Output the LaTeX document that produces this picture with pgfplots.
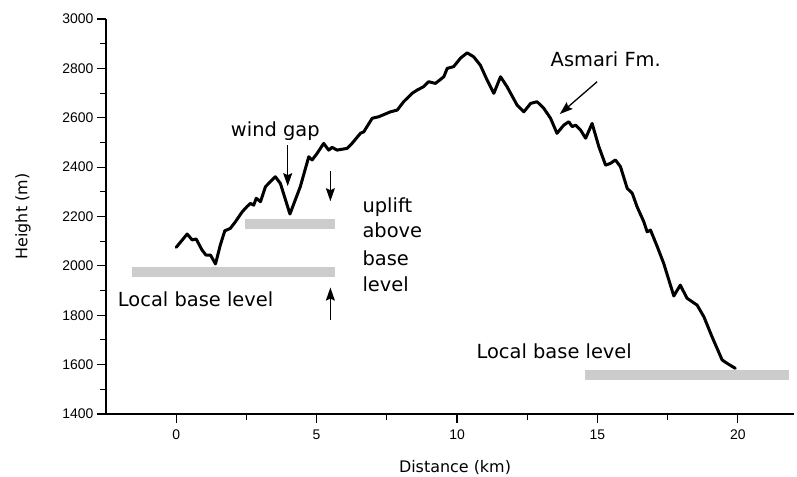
\documentclass[border=0pt]{standalone}
\usepackage{fontspec}
\setmainfont{DejaVu Sans}
\newfontfamily\tickfont{Liberation Sans}
\usepackage{pgfplots}
\pgfplotsset{compat=1.18}
\usetikzlibrary{arrows.meta}
\begin{document}
\begin{tikzpicture}
\begin{axis}[
  at={(106bp,63bp)}, anchor=south west,
  scale only axis, width=688bp, height=395bp,
  xmin=-2.5, xmax=22, ymin=1400, ymax=3000,
  axis lines=left, axis line style={line width=1.4bp, -},
  xtick={0,5,10,15,20}, minor xtick={2.5,7.5,12.5,17.5},
  ytick={1400,1600,...,3000}, minor ytick={1500,1700,...,2900},
  tick align=outside, major tick length=9bp, minor tick length=6bp,
  tick style={line width=1.1bp, black},
  tick label style={font=\tickfont\fontsize{14}{16}\selectfont},
  xticklabel style={yshift=-3bp},
  /pgf/number format/assume math mode=true,
  /pgf/number format/1000 sep={},
  xlabel={Distance (km)}, ylabel={Height (m)},
  label style={font=\fontsize{16}{18}\selectfont},
  xlabel style={at={([xshift=5bp,yshift=-53bp]axis description cs:0.5,0)}, anchor=center},
  ylabel style={at={([xshift=-83bp]axis description cs:0,0.5)}, anchor=center, rotate=0},
  clip=false,
]
% gray base level bars
\addplot[line width=10bp, color=gray!40, line cap=butt, forget plot] coordinates {(-1.57,1977) (5.64,1977)};
\addplot[line width=10bp, color=gray!40, line cap=butt, forget plot] coordinates {(2.44,2169) (5.64,2169)};
\addplot[line width=10bp, color=gray!40, line cap=butt, forget plot] coordinates {(14.57,1556) (21.81,1556)};
% topographic profile
\addplot[line width=3bp, black, line join=round, line cap=round] table {
x y
0.00 2075
0.39 2129
0.57 2105
0.71 2109
0.92 2064
1.06 2044
1.22 2044
1.40 2008
1.57 2084
1.73 2142
1.93 2152
2.11 2179
2.35 2219
2.52 2240
2.64 2253
2.76 2246
2.85 2274
3.00 2260
3.18 2321
3.53 2361
3.71 2334
4.05 2210
4.42 2321
4.72 2442
4.84 2429
5.02 2456
5.25 2496
5.43 2469
5.55 2480
5.73 2469
6.09 2476
6.26 2496
6.56 2537
6.68 2543
6.98 2598
7.21 2604
7.63 2624
7.87 2631
8.10 2665
8.40 2699
8.58 2712
8.81 2726
8.99 2746
9.23 2739
9.53 2766
9.65 2800
9.88 2807
10.12 2841
10.36 2863
10.59 2847
10.83 2813
11.07 2753
11.31 2699
11.55 2766
11.78 2726
12.14 2651
12.38 2624
12.62 2658
12.85 2665
13.09 2638
13.33 2598
13.56 2537
13.80 2570
13.98 2584
14.10 2564
14.22 2570
14.40 2550
14.58 2517
14.81 2577
15.05 2483
15.29 2408
15.46 2415
15.64 2429
15.82 2402
16.06 2314
16.24 2294
16.41 2240
16.65 2179
16.77 2138
16.89 2145
17.13 2078
17.36 2010
17.72 1878
17.95 1922
18.19 1869
18.55 1841
18.79 1794
19.08 1713
19.44 1619
19.62 1605
19.91 1585
};
% arrows
\tikzset{annarrow/.style={line width=1.3bp, -{Stealth[length=13bp,width=9bp,inset=2bp]}}}
\draw[annarrow] (axis cs:3.97,2489) -- (axis cs:3.97,2323);
\draw[annarrow] (axis cs:5.49,2385) -- (axis cs:5.49,2262);
\draw[annarrow] (axis cs:5.49,1781) -- (axis cs:5.49,1912);
\draw[annarrow] (axis cs:14.99,2746) -- (axis cs:13.66,2615);
% annotation text
\begin{scope}[every node/.style={font=\fontsize{19.5}{22}\selectfont, inner sep=0pt}]
\node[anchor=center] at (axis cs:3.53,2546) {wind gap};
\node[anchor=base west] at (axis cs:6.63,2218) {uplift};
\node[anchor=base west] at (axis cs:6.63,2113) {above};
\node[anchor=base west] at (axis cs:6.63,2003) {base};
\node[anchor=base west] at (axis cs:6.63,1898) {level};
\node[anchor=base west] at (axis cs:-2.08,1835) {Local base level};
\node[anchor=base west] at (axis cs:10.69,1626) {Local base level};
\node[anchor=base west] at (axis cs:13.33,2807) {Asmari Fm.};
\end{scope}
\end{axis}
\pgfresetboundingbox
\path[use as bounding box] (0,0) rectangle (797bp,477bp);
\end{tikzpicture}
\end{document}
